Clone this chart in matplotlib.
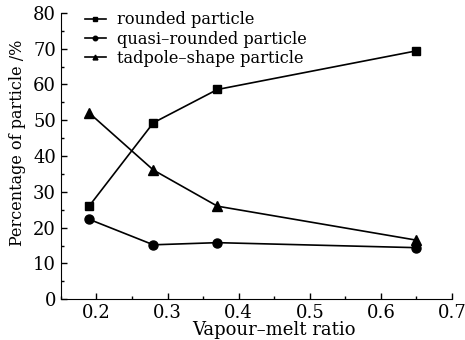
import matplotlib
matplotlib.use('Agg')
import matplotlib.pyplot as plt
from matplotlib.ticker import MultipleLocator

# vapour-melt ratio
ratio = [0.19, 0.28, 0.37, 0.65]
# percentage of particle shapes
rounded = [26.1, 49.3, 58.6, 69.4]
quasi_rounded = [22.3, 15.2, 15.8, 14.4]
tadpole = [52.0, 36.1, 26.0, 16.5]

labels = ['rounded particle', 'quasi\u2013rounded particle', 'tadpole\u2013shape particle']

plt.rcParams['font.family'] = ['DejaVu Serif']
plt.rcParams['mathtext.fontset'] = 'dejavuserif'

fig = plt.figure(figsize=(4.65, 3.4), dpi=100)
ax = fig.add_axes([0.131, 0.12, 0.841, 0.842])

ax.plot(ratio, rounded, color='black', lw=1.2, marker='s', ms=6, label=labels[0])
ax.plot(ratio, quasi_rounded, color='black', lw=1.2, marker='o', ms=6.5, label=labels[1])
ax.plot(ratio, tadpole, color='black', lw=1.2, marker='^', ms=7, label=labels[2])

ax.set_xlim(0.15, 0.7)
ax.set_ylim(0, 80)
ax.xaxis.set_major_locator(MultipleLocator(0.1))
ax.xaxis.set_minor_locator(MultipleLocator(0.05))
ax.yaxis.set_major_locator(MultipleLocator(10))
ax.yaxis.set_minor_locator(MultipleLocator(5))
ax.tick_params(which='both', direction='in', labelsize=13, width=1)
ax.tick_params(which='major', length=4)
ax.tick_params(which='minor', length=2.5)
ax.spines['top'].set_visible(False)
ax.spines['right'].set_visible(False)

ax.set_xlabel('Vapour\u2013melt ratio', fontsize=13, labelpad=0)
ax.xaxis.set_label_coords(0.545, -0.075)
ax.set_ylabel('Percentage of particle /%', fontsize=11.5, labelpad=2)
ax.yaxis.set_label_coords(-0.09, 0.545)

ax.legend(loc='upper left', bbox_to_anchor=(0.024, 1.057), frameon=False, fontsize=11.7,
          markerscale=0.5, handlelength=1.3, handletextpad=0.7, labelspacing=0.15)

fig.savefig('out.png', dpi=100, facecolor='white')
